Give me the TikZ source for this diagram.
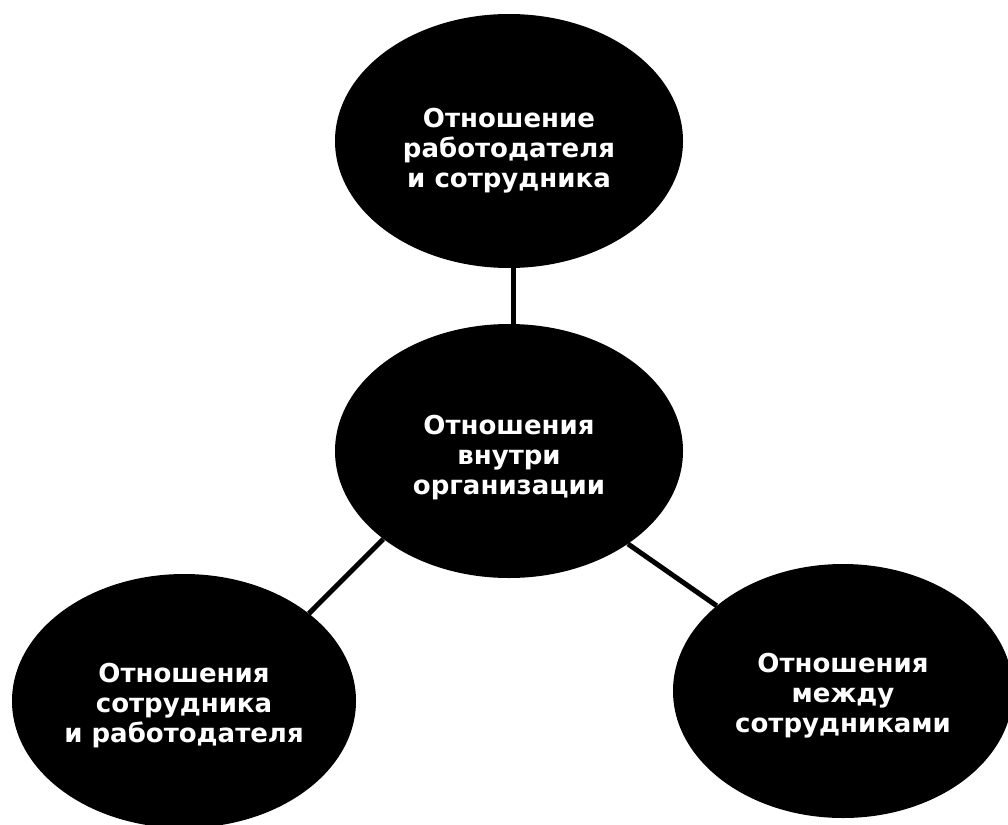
\documentclass[tikz,border=0pt]{standalone}
\usepackage{fontspec}
\setmainfont{DejaVu Sans}
\usetikzlibrary{shapes.geometric}
\newcommand{\toppad}[1]{\rule{0pt}{#1}}

\begin{document}
\begin{tikzpicture}[x=1pt,y=-1pt,
  bubble/.style={ellipse,fill=black,text=white,align=center,inner sep=0pt,
    minimum width=348pt,minimum height=254pt,
    font=\bfseries\fontsize{26}{30}\selectfont},
  link/.style={line width=5pt}]
  \useasboundingbox (0,0) rectangle (1008,824);
  % bubbles: the organisation in the middle, three kinds of relations round it
  \node[bubble] (boss) at (509,141) {\toppad{38pt}Отношение\\работодателя\\и сотрудника};
  \node[bubble] (org) at (509,451) {\toppad{32pt}Отношения\\внутри\\организации};
  \node[bubble,minimum width=344pt] (staff) at (184,701) {\toppad{28pt}Отношения\\сотрудника\\и работодателя};
  \node[bubble,minimum width=340pt] (peers) at (843,691) {\toppad{28pt}Отношения\\между\\сотрудниками};
  % links from the middle bubble
  \draw[link] (boss.272) -- (org.88);
  \draw[link] (org.215) -- (staff.35);
  \draw[link] (org.322) -- (peers.146);
\end{tikzpicture}
\end{document}
